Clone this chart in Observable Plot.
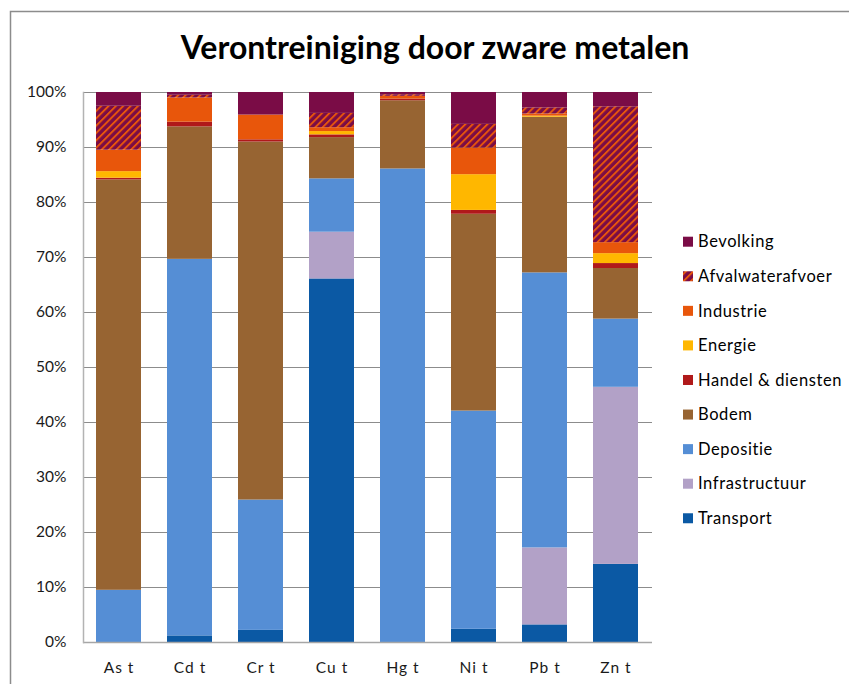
<!DOCTYPE html>
<html>
<head>
<meta charset="utf-8">
<script src="https://cdn.jsdelivr.net/npm/d3@7"></script>
<script src="https://cdn.jsdelivr.net/npm/@observablehq/plot@0.6"></script>
<style>
  body { margin: 0; background: #fff; }
  #chart { position: relative; width: 849px; height: 684px; overflow: hidden; font-family: Lato, "Noto Sans", sans-serif; }
  #chart > svg { position: absolute; left: 0; top: 0; }
  #chart g[aria-label="x-axis tick label"] text { letter-spacing: 1px; }
</style>
</head>
<body>
<div id="chart"></div>
<script>
// Metals (x axis)
const categories = ["As t", "Cd t", "Cr t", "Cu t", "Hg t", "Ni t", "Pb t", "Zn t"];

// Sources, bottom of the stack first
const series = ["Transport", "Infrastructuur", "Depositie", "Bodem", "Handel & diensten",
                "Energie", "Industrie", "Afvalwaterafvoer", "Bevolking"];
const colors = ["#0b59a4", "#b2a1c7", "#558ed5", "#976432", "#b0191a",
                "#ffb700", "#e8560b", "url(#afval-hatch)", "#7a0c46"];

// Share of each source per metal (%)
const transport      = [0,    1.2,  2.2,  66.1, 0,    2.4,  3.2,  14.2];
const infrastructuur = [0,    0,    0,    8.5,  0,    0,    14.0, 32.2];
const depositie      = [9.5,  68.5, 23.7, 9.7,  86.1, 39.7, 50.0, 12.4];
const bodem          = [74.7, 24.1, 65.1, 7.5,  12.4, 35.8, 28.3, 9.2];
const handel         = [0.3,  0.85, 0.4,  0.5,  0.3,  0.7,  0,    0.9];
const energie        = [1.2,  0,    0,    0.6,  0,    6.5,  0.2,  1.8];
const industrie      = [3.9,  4.4,  4.5,  0.7,  0.5,  4.85, 0.4,  2.0];
const afvalwater     = [8.0,  0.5,  0,    2.6,  0.3,  4.3,  1.1,  24.7];
const bevolking      = [2.5,  0.5,  4.1,  3.8,  0.4,  5.8,  2.8,  2.6];

const yTicks = [0, 0.1, 0.2, 0.3, 0.4, 0.5, 0.6, 0.7, 0.8, 0.9, 1];
const title = "Verontreiniging door zware metalen";

const values = [transport, infrastructuur, depositie, bodem, handel, energie, industrie, afvalwater, bevolking];
const rows = series.flatMap((bron, i) =>
  categories.map((categorie, j) => ({categorie, bron, aandeel: values[i][j]})));

const chart = document.getElementById("chart");

const plot = Plot.plot({
  width: 849,
  height: 684,
  marginLeft: 83,
  marginRight: 197,
  marginTop: 92,
  marginBottom: 42,
  style: {fontFamily: "Lato, 'Noto Sans', sans-serif", fontSize: "15px", color: "#1a1a1a", background: "transparent", overflow: "visible"},
  x: {domain: categories, paddingInner: 0.36, paddingOuter: 0.18, label: null},
  y: {domain: [0, 1], label: null},
  color: {domain: series, range: colors},
  marks: [
    Plot.gridY(yTicks, {stroke: "#8c8c8c", strokeOpacity: 1, strokeWidth: 1.2}),
    Plot.barY(rows, Plot.stackY({offset: "normalize"}, {x: "categorie", y: "aandeel", fill: "bron"})),
    Plot.ruleY([0], {stroke: "#a6a6a6", strokeWidth: 1.5}),
    Plot.frame({anchor: "left", stroke: "#b3b3b3", strokeWidth: 1.5}),
    Plot.axisY(yTicks, {tickFormat: d3.format(".0%"), tickSize: 0, tickPadding: 17, label: null, fontSize: 15.5}),
    Plot.axisX({tickSize: 0, tickPadding: 19, label: null, fontSize: 15.5})
  ]
});
chart.appendChild(plot);

// Overlay: frame lines, title, legend and the hatch pattern
const svg = d3.select(chart).append("svg")
  .attr("width", 849).attr("height", 684)
  .style("pointer-events", "none")
  .style("font-family", "Lato, 'Noto Sans', sans-serif");

const pat = svg.append("defs").append("pattern")
  .attr("id", "afval-hatch")
  .attr("patternUnits", "userSpaceOnUse")
  .attr("width", 5.2).attr("height", 5.2)
  .attr("patternTransform", "rotate(45)");
pat.append("rect").attr("width", 5.2).attr("height", 5.2).attr("fill", "#7a0c46");
pat.append("rect").attr("width", 1.9).attr("height", 5.2).attr("fill", "#e8560b");

svg.append("path")
  .attr("d", "M10.5,684V11.5H849")
  .attr("fill", "none").attr("stroke", "#8c8c8c").attr("stroke-width", 1.5);

svg.append("text")
  .attr("x", 435).attr("y", 59)
  .attr("text-anchor", "middle")
  .attr("font-size", 32).attr("font-weight", 700).attr("fill", "#000")
  .text(title);

const legendOrder = series.map((s, i) => i).reverse();
const legend = svg.append("g");
legendOrder.forEach((i, k) => {
  const cy = 241.7 + k * 34.57;
  legend.append("rect").attr("x", 683).attr("y", cy - 5).attr("width", 10).attr("height", 10).attr("fill", colors[i]);
  legend.append("text").attr("x", 698).attr("y", cy).attr("dy", "0.35em")
    .attr("font-size", 16.5).attr("letter-spacing", 0.6).attr("fill", "#000").text(series[i]);
});
</script>
</body>
</html>
